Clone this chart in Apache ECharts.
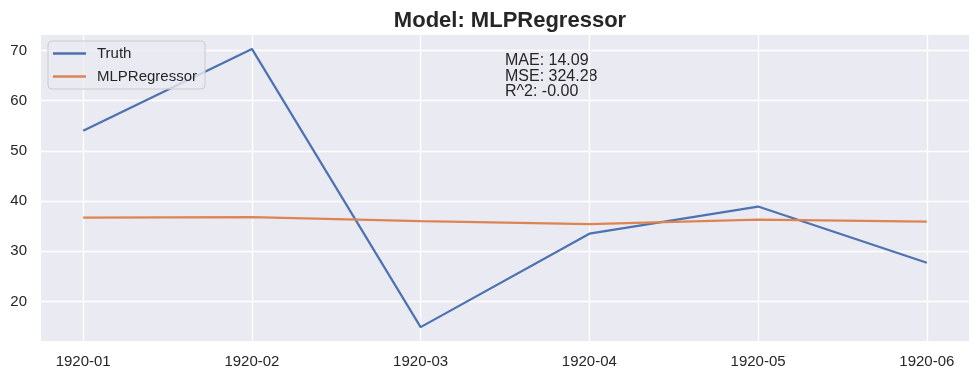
<!DOCTYPE html>
<html><head><meta charset="utf-8">
<script src="https://cdn.jsdelivr.net/npm/echarts@6/dist/echarts.min.js"></script>
<style>html,body{margin:0;padding:0;background:#fff}#c{width:980px;height:379px}</style>
</head><body><div id="c"></div>
<script>
const categories = ['1920-01','1920-02','1920-03','1920-04','1920-05','1920-06'];
const truth = [54.0, 70.3, 14.9, 33.5, 38.9, 27.7];
const mlp = [36.7, 36.8, 36.0, 35.4, 36.3, 35.9];
const yTicks = [20, 30, 40, 50, 60, 70];
const metrics = ['MAE: 14.09', 'MSE: 324.28', 'R^2: -0.00'];

const font = 'Liberation Sans, Arial, sans-serif';
const chart = echarts.init(document.getElementById('c'));
const xIdx = categories.map((_, i) => i);
chart.setOption({
  backgroundColor: '#ffffff',
  animation: false,
  title: {
    text: 'Model: MLPRegressor', left: 505, top: 5, textAlign: 'center',
    textStyle: {fontFamily: font, fontSize: 22, fontWeight: 'bold', color: '#262626'}
  },
  legend: {
    orient: 'vertical', left: 48, top: 41,
    backgroundColor: 'rgba(234,234,242,0.8)', borderColor: '#cccccc', borderWidth: 1, borderRadius: 4,
    padding: [4, 8, 4, 5], itemWidth: 33, itemHeight: 2.4, itemGap: 6, icon: 'rect',
    textStyle: {fontFamily: font, fontSize: 15, lineHeight: 17, color: '#262626', padding: [0, 0, 0, 6]},
    data: ['Truth', 'MLPRegressor']
  },
  grid: {left: 41, right: 11, top: 35, bottom: 38, backgroundColor: '#EAEAF2', show: true, borderWidth: 0},
  xAxis: {
    type: 'value', min: -0.25, max: 5.25,
    axisLine: {show: false}, axisTick: {show: false, customValues: xIdx},
    axisLabel: {customValues: xIdx, formatter: v => categories[Math.round(v)], margin: 13,
      fontFamily: font, fontSize: 15, color: '#262626'},
    splitLine: {show: true, lineStyle: {color: '#ffffff', width: 1.3}}
  },
  yAxis: {
    type: 'value', min: 12.13, max: 73.07,
    axisLine: {show: false}, axisTick: {show: false, customValues: yTicks},
    axisLabel: {customValues: yTicks, margin: 14, fontFamily: font, fontSize: 15, color: '#262626'},
    splitLine: {show: true, lineStyle: {color: '#ffffff', width: 1.3}}
  },
  graphic: metrics.map((t, i) => ({
    type: 'text', left: 505, top: 53 + i * 15.5,
    style: {text: t, fontFamily: font, fontSize: 16, fill: '#262626'}
  })),
  series: [
    {name: 'Truth', type: 'line', symbol: 'none', data: truth.map((v, i) => [xIdx[i], v]),
      lineStyle: {color: '#4C72B0', width: 2.2}, itemStyle: {color: '#4C72B0'}},
    {name: 'MLPRegressor', type: 'line', symbol: 'none', data: mlp.map((v, i) => [xIdx[i], v]),
      lineStyle: {color: '#DD8452', width: 2.2}, itemStyle: {color: '#DD8452'}}
  ]
});
</script></body></html>
